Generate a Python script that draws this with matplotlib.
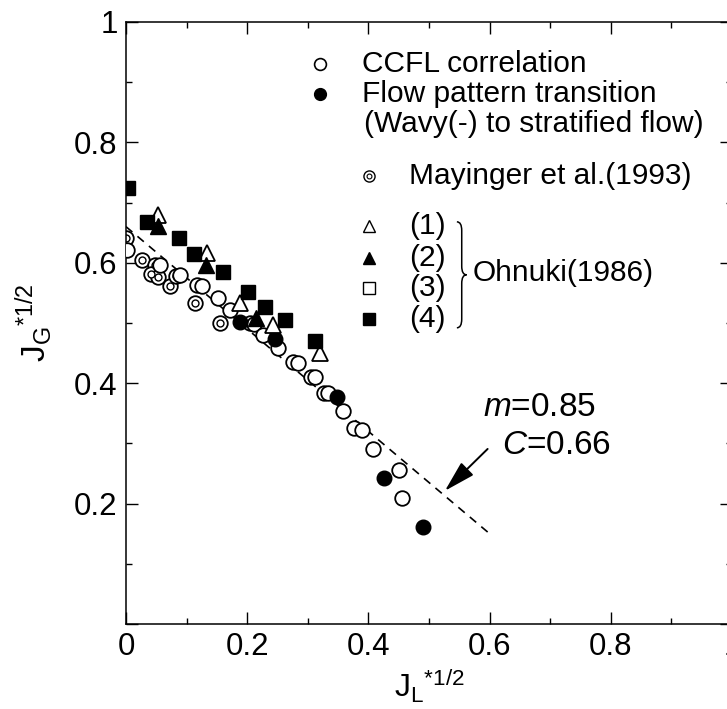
import numpy as np
import matplotlib
matplotlib.use("Agg")
import matplotlib.pyplot as plt
from matplotlib.path import Path
from matplotlib.patches import PathPatch

plt.rcParams['font.family'] = ['Liberation Sans', 'DejaVu Sans']
plt.rcParams['mathtext.fontset'] = 'custom'
plt.rcParams['mathtext.rm'] = 'Liberation Sans'
plt.rcParams['mathtext.it'] = 'Liberation Sans:italic'
plt.rcParams['font.size'] = 21.5

# CCFL correlation (open circles)
ccfl_x = [0.001, 0.056, 0.089, 0.117, 0.125, 0.152, 0.171, 0.204, 0.212, 0.226,
          0.251, 0.276, 0.284, 0.306, 0.312, 0.326, 0.334, 0.358, 0.376, 0.390,
          0.407, 0.451, 0.456]
ccfl_y = [0.621, 0.596, 0.580, 0.563, 0.562, 0.541, 0.522, 0.500, 0.498, 0.480,
          0.458, 0.436, 0.434, 0.411, 0.411, 0.383, 0.383, 0.354, 0.325, 0.323,
          0.290, 0.256, 0.210]

# flow pattern transition (filled circles)
trans_x = [0.188, 0.246, 0.348, 0.426, 0.490]
trans_y = [0.502, 0.473, 0.377, 0.242, 0.161]

# Mayinger et al. (1993)
may_x = [0.000, 0.026, 0.048, 0.042, 0.052, 0.073, 0.082, 0.114, 0.155]
may_y = [0.641, 0.604, 0.596, 0.581, 0.576, 0.561, 0.578, 0.533, 0.500]

# Ohnuki (1986)
oh1_x = [0.053, 0.134, 0.188, 0.242, 0.320]
oh1_y = [0.679, 0.617, 0.533, 0.497, 0.450]
oh2_x = [0.052, 0.132, 0.215]
oh2_y = [0.661, 0.596, 0.509]
oh4_x = [0.003, 0.034, 0.087, 0.113, 0.160, 0.202, 0.230, 0.263, 0.312]
oh4_y = [0.724, 0.667, 0.641, 0.614, 0.585, 0.552, 0.527, 0.505, 0.470]

# correlation line  J_G*^1/2 + m J_L*^1/2 = C
m_val = 0.85
c_val = 0.66
line_x = np.array([0.0, 0.6])

fig = plt.figure(figsize=(7.27, 7.09), dpi=100)
ax = fig.add_axes([0.1733, 0.1199, 0.8336, 0.8491])

ax.plot(line_x, c_val - m_val * line_x, color='k', lw=1.2, dashes=(5, 4), zorder=1)

mew = 1.3
ax.plot(may_x, may_y, 'o', ms=10.5, mfc='white', mec='k', mew=mew, zorder=2)
ax.plot(may_x, may_y, 'o', ms=5, mfc='white', mec='k', mew=1.0, zorder=2)
ax.plot(ccfl_x, ccfl_y, 'o', ms=10.5, mfc='white', mec='k', mew=mew, zorder=3)
ax.plot(trans_x, trans_y, 'o', ms=10.5, mfc='k', mec='k', zorder=4)
ax.plot(oh1_x, oh1_y, '^', ms=11.5, mfc='white', mec='k', mew=mew, zorder=4)
ax.plot(oh2_x, oh2_y, '^', ms=11.5, mfc='k', mec='k', zorder=5)
ax.plot(oh4_x, oh4_y, 's', ms=10.5, mfc='k', mec='k', zorder=5)

# legend drawn by hand
ax.plot(0.320, 0.931, 'o', ms=8.5, mfc='white', mec='k', mew=1.2)
ax.text(0.389, 0.931, 'CCFL correlation', va='center', ha='left')
ax.plot(0.320, 0.880, 'o', ms=8.5, mfc='k', mec='k')
ax.text(0.389, 0.880, 'Flow pattern transition', va='center', ha='left')
ax.text(0.392, 0.831, '(Wavy(-) to stratified flow)', va='center', ha='left')
ax.plot(0.401, 0.744, 'o', ms=8, mfc='white', mec='k', mew=1.0)
ax.plot(0.401, 0.744, 'o', ms=3.5, mfc='white', mec='k', mew=0.8)
ax.text(0.467, 0.744, 'Mayinger et al.(1993)', va='center', ha='left')

oh_labels = ['(1)', '(2)', '(3)', '(4)']
oh_marks = [('^', 'white'), ('^', 'k'), ('s', 'white'), ('s', 'k')]
oh_rows = [0.661, 0.608, 0.558, 0.507]
for lab, (mk, fc), yy in zip(oh_labels, oh_marks, oh_rows):
    ax.plot(0.401, yy, mk, ms=8.5, mfc=fc, mec='k', mew=1.0)
    ax.text(0.467, yy, lab, va='center', ha='left')


def brace(ax, x0, y0, y1, w):
    ym = (y0 + y1) / 2
    h = w * 0.9
    verts = [(x0, y1), (x0 + w / 2, y1), (x0 + w / 2, y1 - h),
             (x0 + w / 2, ym + h), (x0 + w / 2, ym), (x0 + w, ym),
             (x0 + w / 2, ym), (x0 + w / 2, ym - h),
             (x0 + w / 2, y0 + h), (x0 + w / 2, y0), (x0, y0)]
    codes = [Path.MOVETO, Path.CURVE3, Path.CURVE3, Path.LINETO, Path.CURVE3,
             Path.CURVE3, Path.CURVE3, Path.CURVE3, Path.LINETO, Path.CURVE3,
             Path.CURVE3]
    ax.add_patch(PathPatch(Path(verts, codes), fc='none', ec='k', lw=1.1))


brace(ax, 0.546, 0.492, 0.668, 0.016)
ax.text(0.572, 0.583, 'Ohnuki(1986)', va='center', ha='left')

# annotation
ax.annotate('', xy=(0.523, 0.218), xytext=(0.600, 0.294),
            arrowprops=dict(arrowstyle='-|>,head_length=0.9,head_width=0.25',
                            color='k', lw=1.4))
ax.text(0.589, 0.360, r'$\mathit{m}$=0.85', va='center', ha='left', fontsize=24)
ax.text(0.620, 0.297, r'$\mathit{C}$=0.66', va='center', ha='left', fontsize=24)

ax.set_xlim(0, 1)
ax.set_ylim(0, 1)
ax.set_xticks([0, 0.2, 0.4, 0.6, 0.8, 1.0])
ax.set_xticklabels(['0', '0.2', '0.4', '0.6', '0.8', '1'])
ax.set_yticks([0, 0.2, 0.4, 0.6, 0.8, 1.0])
ax.set_yticklabels(['', '0.2', '0.4', '0.6', '0.8', '1'])
ax.set_xticks(np.arange(0.1, 1.0, 0.2), minor=True)
ax.set_yticks(np.arange(0.1, 1.0, 0.2), minor=True)
ax.tick_params(which='both', direction='in', top=True, right=True, width=1.0,
               labelsize=22.5)
ax.tick_params(which='major', length=8.5)
ax.tick_params(which='minor', length=4.5)
ax.tick_params(axis='x', pad=6)
ax.tick_params(axis='y', pad=6)
for s in ax.spines.values():
    s.set_linewidth(1.1)

ax.set_xlabel(r'$\mathrm{J_L}^{*1/2}$', labelpad=4, fontsize=23)
ax.set_ylabel(r'$\mathrm{J_G}^{*1/2}$', labelpad=14, fontsize=24)

fig.savefig('out.png', dpi=100)
